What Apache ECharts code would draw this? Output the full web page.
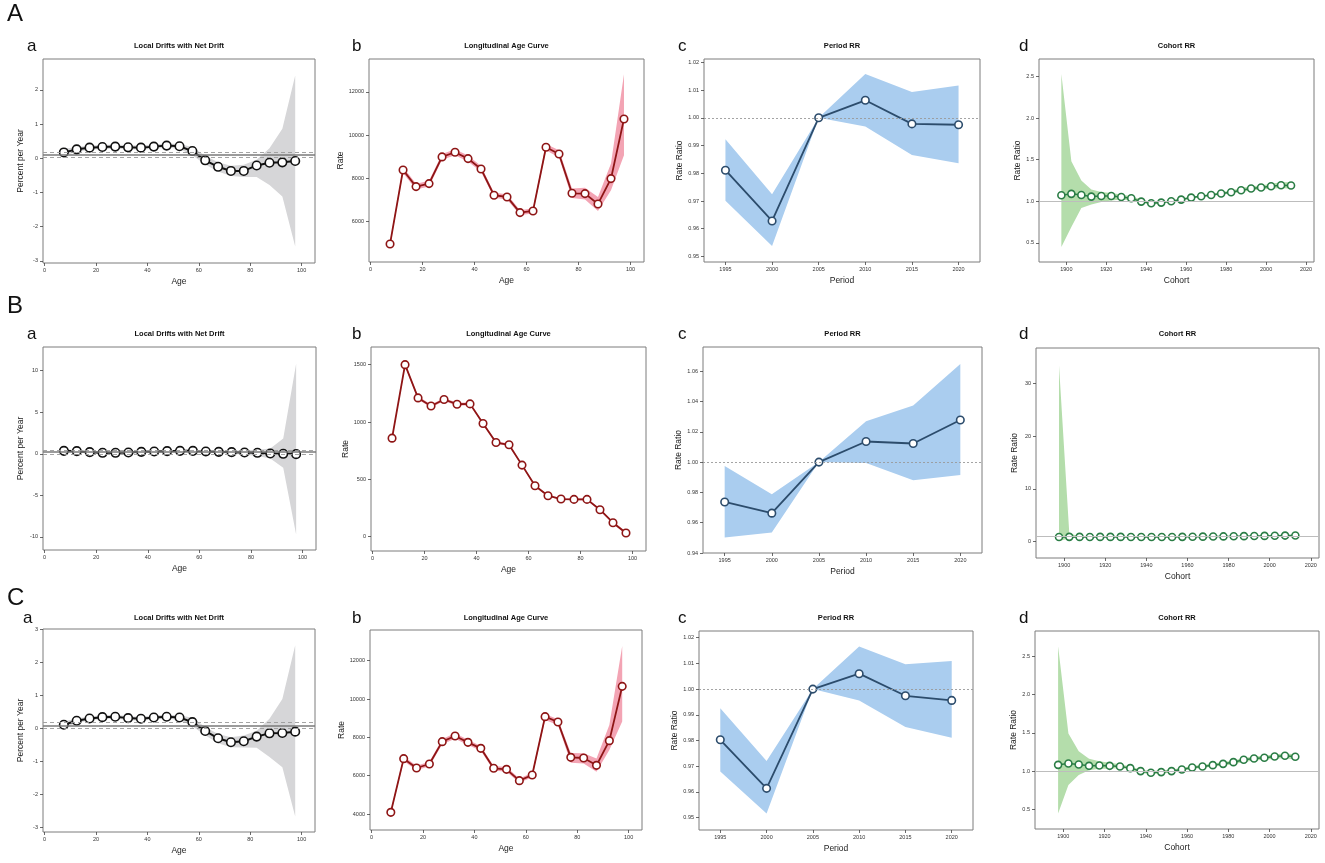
<!DOCTYPE html>
<html>
<head>
<meta charset="utf-8">
<title>APC panels</title>
<script src="https://cdn.jsdelivr.net/npm/echarts@6/dist/echarts.min.js"></script>
<style>
  html, body { margin: 0; padding: 0; background: #fff; }
  #chart { width: 1325px; height: 863px; }
</style>
</head>
<body>
<div id="chart"></div>
<script>
// ---- x positions and tick labels ----
const ages = [7.5, 12.5, 17.5, 22.5, 27.5, 32.5, 37.5, 42.5, 47.5, 52.5, 57.5, 62.5, 67.5, 72.5, 77.5, 82.5, 87.5, 92.5, 97.5];
const periods = [1995, 2000, 2005, 2010, 2015, 2020];
const cohorts = [1897.5, 1902.5, 1907.5, 1912.5, 1917.5, 1922.5, 1927.5, 1932.5, 1937.5, 1942.5, 1947.5, 1952.5,
  1957.5, 1962.5, 1967.5, 1972.5, 1977.5, 1982.5, 1987.5, 1992.5, 1997.5, 2002.5, 2007.5, 2012.5];

const ageTicks = [0, 20, 40, 60, 80, 100];
const periodTicks = [1995, 2000, 2005, 2010, 2015, 2020];
const cohortTicks = [1900, 1920, 1940, 1960, 1980, 2000, 2020];

// ---- A ----
const driftA = [0.17, 0.26, 0.31, 0.33, 0.34, 0.32, 0.31, 0.34, 0.37, 0.35, 0.21, -0.06, -0.25, -0.37, -0.37, -0.21, -0.13, -0.12, -0.08];
const driftLoA = [0.08, 0.19, 0.25, 0.27, 0.28, 0.26, 0.25, 0.28, 0.31, 0.28, 0.09, -0.18, -0.39, -0.52, -0.55, -0.55, -0.78, -1.12, -2.58];
const driftHiA = [0.27, 0.33, 0.37, 0.39, 0.40, 0.38, 0.37, 0.40, 0.43, 0.42, 0.33, 0.07, -0.12, -0.22, -0.19, -0.04, 0.29, 0.86, 2.42];
const netA = [0.10, 0.02, 0.19];
const driftTicksA = [-3, -2, -1, 0, 1, 2];

const rateA = [4948, 8382, 7609, 7748, 8986, 9202, 8908, 8429, 7207, 7129, 6402, 6480, 9434, 9125, 7299, 7284, 6804, 7980, 10749];
const rateLoA = [4860, 8240, 7480, 7610, 8850, 9060, 8770, 8300, 7090, 7010, 6290, 6360, 9290, 8960, 7080, 7010, 6480, 7440, 9060];
const rateHiA = [5040, 8520, 7740, 7880, 9120, 9340, 9050, 8560, 7320, 7250, 6510, 6600, 9580, 9290, 7520, 7550, 7130, 8680, 12820];
const rateTicksA = [6000, 8000, 10000, 12000];

const periodA = [0.9811, 0.9628, 1.0, 1.0063, 0.9978, 0.9975];
const periodLoA = [0.9701, 0.9538, 1.0, 0.9969, 0.9866, 0.9836];
const periodHiA = [0.9923, 0.9724, 1.0, 1.0158, 1.0093, 1.0116];
const periodTicksA = [0.95, 0.96, 0.97, 0.98, 0.99, 1.00, 1.01, 1.02];

const cohortA = [1.072, 1.089, 1.076, 1.056, 1.064, 1.064, 1.052, 1.036, 0.996, 0.976, 0.984, 1.0,
  1.02, 1.044, 1.06, 1.076, 1.093, 1.109, 1.133, 1.153, 1.165, 1.181, 1.193, 1.189];
const cohortLoA = [0.45, 0.69, 0.92, 0.96, 0.99, 1.01, 1.02, 1.01, 0.98, 0.96, 0.97, 0.99,
  1.01, 1.03, 1.05, 1.06, 1.08, 1.09, 1.11, 1.13, 1.14, 1.15, 1.16, 1.15];
const cohortHiA = [2.53, 1.48, 1.25, 1.14, 1.11, 1.10, 1.08, 1.06, 1.02, 0.99, 1.0, 1.01,
  1.03, 1.06, 1.07, 1.09, 1.11, 1.13, 1.16, 1.18, 1.19, 1.21, 1.23, 1.23];
const cohortTicksA = [0.5, 1.0, 1.5, 2.0, 2.5];

// ---- B ----
const driftB = [0.36, 0.32, 0.2, 0.12, 0.12, 0.16, 0.24, 0.28, 0.32, 0.36, 0.36, 0.28, 0.24, 0.2, 0.16, 0.12, 0.04, 0.0, -0.04];
const driftLoB = [0.2, 0.18, 0.08, 0.0, 0.0, 0.04, 0.12, 0.16, 0.2, 0.24, 0.22, 0.14, 0.08, 0.0, -0.1, -0.25, -0.56, -1.69, -9.72];
const driftHiB = [0.52, 0.46, 0.32, 0.24, 0.24, 0.28, 0.36, 0.4, 0.44, 0.48, 0.5, 0.42, 0.4, 0.4, 0.42, 0.5, 0.64, 1.85, 10.84];
const netB = [0.22, -0.02, 0.46];
const driftTicksB = [-10, -5, 0, 5, 10];

const rateB = [859, 1500, 1210, 1140, 1196, 1155, 1158, 987, 821, 801, 624, 444, 357, 328, 325, 325, 235, 122, 32];
const rateLoB = [845, 1485, 1196, 1127, 1183, 1142, 1145, 975, 810, 790, 614, 436, 350, 321, 317, 316, 226, 112, 18];
const rateHiB = [873, 1515, 1224, 1153, 1209, 1168, 1171, 999, 832, 812, 634, 452, 364, 335, 333, 334, 244, 132, 46];
const rateTicksB = [0, 500, 1000, 1500];

const periodB = [0.9737, 0.9663, 1.0, 1.0136, 1.0123, 1.0278];
const periodLoB = [0.9503, 0.9536, 1.0, 0.9995, 0.988, 0.9915];
const periodHiB = [0.9974, 0.9788, 1.0, 1.0269, 1.0374, 1.0648];
const periodTicksB = [0.94, 0.96, 0.98, 1.00, 1.02, 1.04, 1.06];

const cohortB = [0.88, 0.91, 0.90, 0.89, 0.90, 0.90, 0.90, 0.89, 0.88, 0.87, 0.88, 0.89,
  0.91, 0.93, 0.95, 0.97, 0.99, 1.01, 1.04, 1.07, 1.09, 1.12, 1.15, 1.17];
const cohortLoB = [0.1, 0.6, 0.84, 0.86, 0.88, 0.88, 0.88, 0.87, 0.86, 0.85, 0.86, 0.87,
  0.89, 0.91, 0.93, 0.95, 0.97, 0.99, 1.02, 1.04, 1.06, 1.09, 1.11, 1.12];
const cohortHiB = [33.4, 1.6, 0.97, 0.92, 0.92, 0.92, 0.92, 0.91, 0.9, 0.89, 0.9, 0.91,
  0.93, 0.95, 0.97, 0.99, 1.01, 1.03, 1.06, 1.1, 1.12, 1.15, 1.19, 1.22];
const cohortTicksB = [0, 10, 20, 30];

// ---- C ----
const driftC = [0.12, 0.24, 0.31, 0.35, 0.36, 0.32, 0.30, 0.34, 0.36, 0.34, 0.20, -0.07, -0.29, -0.41, -0.38, -0.24, -0.14, -0.13, -0.09];
const driftLoC = [0.03, 0.17, 0.25, 0.29, 0.30, 0.26, 0.24, 0.28, 0.30, 0.27, 0.07, -0.2, -0.44, -0.56, -0.57, -0.58, -0.86, -1.17, -2.66];
const driftHiC = [0.22, 0.31, 0.37, 0.41, 0.42, 0.38, 0.36, 0.40, 0.42, 0.41, 0.33, 0.05, -0.16, -0.26, -0.21, -0.06, 0.3, 0.9, 2.53];
const netC = [0.09, 0.01, 0.18];
const driftTicksC = [-3, -2, -1, 0, 1, 2, 3];

const rateC = [4087, 6887, 6400, 6609, 7774, 8069, 7739, 7426, 6383, 6330, 5739, 6035, 9078, 8800, 6956, 6922, 6539, 7826, 10660];
const rateLoC = [4000, 6760, 6280, 6490, 7640, 7930, 7600, 7300, 6270, 6210, 5630, 5920, 8900, 8640, 6680, 6640, 6210, 7340, 8820];
const rateHiC = [4170, 7010, 6520, 6730, 7910, 8210, 7880, 7550, 6500, 6450, 5850, 6150, 9220, 8940, 7180, 7170, 6900, 8640, 12770];
const rateTicksC = [4000, 6000, 8000, 10000, 12000];

const periodC = [0.9803, 0.9614, 1.0, 1.006, 0.9974, 0.9956];
const periodLoC = [0.968, 0.9516, 1.0, 0.9956, 0.9853, 0.9811];
const periodHiC = [0.9926, 0.972, 1.0, 1.0166, 1.0097, 1.0109];
const periodTicksC = [0.95, 0.96, 0.97, 0.98, 0.99, 1.00, 1.01, 1.02];

const cohortC = [1.082, 1.1, 1.087, 1.069, 1.074, 1.069, 1.061, 1.039, 1.0, 0.978, 0.987, 1.0,
  1.022, 1.048, 1.061, 1.078, 1.095, 1.117, 1.148, 1.165, 1.174, 1.191, 1.2, 1.187];
const cohortLoC = [0.445, 0.82, 0.95, 1.01, 1.03, 1.03, 1.04, 1.02, 0.98, 0.96, 0.97, 0.98,
  1.0, 1.03, 1.04, 1.06, 1.07, 1.09, 1.12, 1.14, 1.15, 1.16, 1.17, 1.15];
const cohortHiC = [2.63, 1.49, 1.26, 1.16, 1.13, 1.11, 1.09, 1.06, 1.02, 1.0, 1.01, 1.02,
  1.04, 1.07, 1.08, 1.1, 1.12, 1.14, 1.17, 1.19, 1.2, 1.22, 1.23, 1.22];
const cohortTicksC = [0.5, 1.0, 1.5, 2.0, 2.5];

// ---- look of the four panel kinds ----
const kinds = {
  drift: { title: "Local Drifts with Net Drift", xName: "Age", yName: "Percent per Year", line: "#111111", band: "#d6d6d8",
    x: ages, xTicks: ageTicks, xMin: -0.6, xMax: 105.2, size: 8.5, width: 2, yGap: 18 },
  age: { title: "Longitudinal Age Curve", xName: "Age", yName: "Rate", line: "#8e1515", band: "#f3a4b4",
    x: ages, xTicks: ageTicks, xMin: -0.6, xMax: 105.2, size: 7.5, width: 1.8, yGap: 20 },
  period: { title: "Period RR", xName: "Period", yName: "Rate Ratio", line: "#2c4c6c", band: "#aacdef",
    x: periods, xTicks: periodTicks, xMin: 1992.7, xMax: 2022.3, size: 7.5, width: 1.8, yGap: 18 },
  cohort: { title: "Cohort RR", xName: "Cohort", yName: "Rate Ratio", line: "#2a7d45", band: "#b4ddab",
    x: cohorts, xTicks: cohortTicks, xMin: 1886.3, xMax: 2024, size: 7, width: 1.5, yGap: 17 },
};

// panels in reading order: row A, row B, row C
const panels = [
  { kind: "drift", y: driftA, lo: driftLoA, hi: driftHiA, net: netA, ticks: driftTicksA, yMin: -3.06, yMax: 2.9, dec: 0 },
  { kind: "age", y: rateA, lo: rateLoA, hi: rateHiA, ticks: rateTicksA, yMin: 4110, yMax: 13530, dec: 0 },
  { kind: "period", y: periodA, lo: periodLoA, hi: periodHiA, ticks: periodTicksA, yMin: 0.948, yMax: 1.0212, dec: 2 },
  { kind: "cohort", y: cohortA, lo: cohortLoA, hi: cohortHiA, ticks: cohortTicksA, yMin: 0.27, yMax: 2.71, dec: 1 },
  { kind: "drift", y: driftB, lo: driftLoB, hi: driftHiB, net: netB, ticks: driftTicksB, yMin: -11.57, yMax: 12.85, dec: 0 },
  { kind: "age", y: rateB, lo: rateLoB, hi: rateHiB, ticks: rateTicksB, yMin: -125, yMax: 1654, dec: 0 },
  { kind: "period", y: periodB, lo: periodLoB, hi: periodHiB, ticks: periodTicksB, yMin: 0.94, yMax: 1.076, dec: 2 },
  { kind: "cohort", y: cohortB, lo: cohortLoB, hi: cohortHiB, ticks: cohortTicksB, yMin: -3.1, yMax: 36.7, dec: 0 },
  { kind: "drift", y: driftC, lo: driftLoC, hi: driftHiC, net: netC, ticks: driftTicksC, yMin: -3.13, yMax: 3.02, dec: 0 },
  { kind: "age", y: rateC, lo: rateLoC, hi: rateHiC, ticks: rateTicksC, yMin: 3165, yMax: 13600, dec: 0 },
  { kind: "period", y: periodC, lo: periodLoC, hi: periodHiC, ticks: periodTicksC, yMin: 0.9452, yMax: 1.0226, dec: 2 },
  { kind: "cohort", y: cohortC, lo: cohortLoC, hi: cohortHiC, ticks: cohortTicksC, yMin: 0.244, yMax: 2.83, dec: 1 },
];

// plot boxes [left, top, right, bottom] in px
const boxes = [
  [43, 59, 315, 263], [369, 59, 644, 262], [704, 59, 980, 262], [1039, 59, 1314, 262],
  [43, 347, 316, 550], [371, 347, 646, 551], [703, 347, 982, 553], [1036, 348, 1319, 558],
  [43, 629, 315, 832], [370, 630, 642, 830], [699, 631, 973, 830], [1035, 631, 1319, 829],
];
const rowLetters = [["A", 13], ["B", 305], ["C", 597]];
const titleY = [46, 334, 618];
const letterX = [27, 352, 678, 1019];
const FONT = "'Liberation Sans', Arial, sans-serif";

const option = {
  animation: false,
  textStyle: { fontFamily: FONT },
  grid: [], xAxis: [], yAxis: [], series: [], graphic: [],
};

rowLetters.forEach(([txt, y]) => {
  option.graphic.push({ type: "text", left: 7, top: y - 11,
    style: { text: txt, font: `24px ${FONT}`, fill: "#111" } });
});

panels.forEach((p, i) => {
  const k = kinds[p.kind];
  const [l, t, r, b] = boxes[i];
  const row = Math.floor(i / 4), col = i % 4;

  option.grid.push({ left: l, top: t, width: r - l, height: b - t, show: true,
    borderColor: "#7d7d7d", borderWidth: 1, backgroundColor: "transparent" });

  option.xAxis.push({
    type: "value", gridIndex: i, min: k.xMin, max: k.xMax, position: "bottom",
    axisLine: { show: false, onZero: false }, splitLine: { show: false },
    axisTick: { show: true, customValues: k.xTicks, length: 3, lineStyle: { color: "#444", width: 0.8 } },
    axisLabel: { customValues: k.xTicks, fontSize: 5.5, color: "#333", margin: 4, formatter: (v) => String(v) },
    name: k.xName, nameLocation: "middle", nameGap: 14,
    nameTextStyle: { fontSize: 8.5, color: "#222" },
  });
  option.yAxis.push({
    type: "value", gridIndex: i, min: p.yMin, max: p.yMax, position: "left",
    axisLine: { show: false, onZero: false }, splitLine: { show: false },
    axisTick: { show: true, customValues: p.ticks, length: 3, lineStyle: { color: "#444", width: 0.8 } },
    axisLabel: { customValues: p.ticks, fontSize: 5.5, color: "#333", margin: 5,
      formatter: (v) => v.toFixed(p.dec) },
    name: k.yName, nameLocation: "middle", nameGap: k.yGap,
    nameTextStyle: { fontSize: 8.5, color: "#222" },
  });

  // reference lines
  let refs = [];
  if (p.kind === "drift") {
    refs = [
      { yAxis: p.net[0], lineStyle: { color: "#7a7a7a", width: 1.6, type: "solid" } },
      { yAxis: p.net[1], lineStyle: { color: "#9a9a9a", width: 0.9, type: [4, 3] } },
      { yAxis: p.net[2], lineStyle: { color: "#9a9a9a", width: 0.9, type: [4, 3] } },
    ];
  } else if (p.kind === "period") {
    refs = [{ yAxis: 1, lineStyle: { color: "#9a9a9a", width: 0.9, type: [2, 2] } }];
  } else if (p.kind === "cohort") {
    refs = [{ yAxis: 1, lineStyle: { color: "#bdbdbd", width: 1, type: "solid" } }];
  }

  const pts = (arr) => k.x.map((v, j) => [v, arr[j]]);

  // confidence band as one polygon: upper edge then lower edge back
  option.series.push({
    type: "custom", xAxisIndex: i, yAxisIndex: i, silent: true, z: 1,
    data: [0],
    renderItem: (params, api) => {
      const up = k.x.map((v, j) => api.coord([v, p.hi[j]]));
      const dn = k.x.map((v, j) => api.coord([v, p.lo[j]])).reverse();
      return { type: "polygon", shape: { points: up.concat(dn) }, style: { fill: k.band } };
    },
  });
  // reference lines, above band, below the estimates
  option.series.push({
    type: "line", xAxisIndex: i, yAxisIndex: i, silent: true, z: 2,
    data: pts(p.y), symbol: "none", lineStyle: { opacity: 0 },
    markLine: { silent: true, symbol: "none", label: { show: false }, data: refs },
  });
  // estimates
  option.series.push({
    type: "line", xAxisIndex: i, yAxisIndex: i, silent: true, z: 3,
    data: pts(p.y), symbol: "circle", symbolSize: k.size,
    itemStyle: { color: "#fff", borderColor: k.line, borderWidth: 1.6 },
    lineStyle: { color: k.line, width: k.width },
  });

  // panel title and letter
  option.graphic.push({ type: "text", x: (l + r) / 2, y: titleY[row],
    style: { text: k.title, font: `bold 7.5px ${FONT}`, fill: "#111", align: "center", verticalAlign: "middle" } });
  option.graphic.push({ type: "text", x: letterX[col] - (row === 2 && col === 0 ? 4 : 0), y: titleY[row],
    style: { text: "abcd"[col], font: `17px ${FONT}`, fill: "#111", align: "left", verticalAlign: "middle" } });
});

const chart = echarts.init(document.getElementById("chart"));
chart.setOption(option);
</script>
</body>
</html>
